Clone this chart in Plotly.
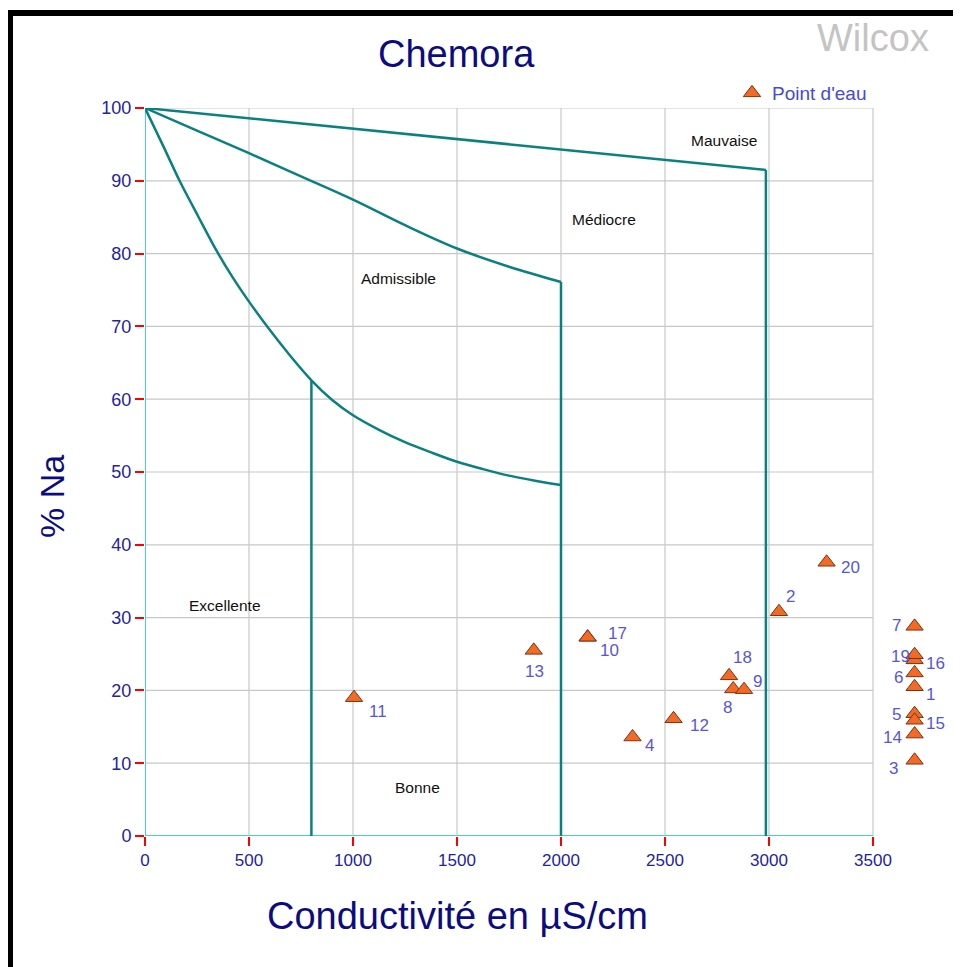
import plotly.graph_objects as go

# ---------------- data ----------------
point_ids = [str(i) for i in range(1, 21)]
conductivity = [3700, 3048, 3700, 2344, 3700, 3700, 3700, 2828, 2880, 2128,
                1005, 2541, 1869, 3700, 3700, 3700, 2128, 2808, 3700, 3277]
na_percent = [20.5, 30.8, 10.4, 13.6, 16.8, 22.4, 28.8, 20.2, 20.1, 27.3,
              19.0, 16.1, 25.5, 14.0, 15.9, 24.2, 27.3, 22.0, 24.9, 37.6]

# Wilcox class boundaries
top_x = [0, 2985]
top_y = [100, 91.5]
adm_x = [0, 250, 500, 750, 1000, 1250, 1500, 1750, 2000]
adm_y = [100, 96.9, 93.8, 90.6, 87.4, 83.9, 80.7, 78.2, 76.1]
exc_x = [0, 84, 168, 256, 344, 420, 500, 592, 700, 800, 900, 1000,
         1125, 1250, 1375, 1500, 1625, 1750, 1875, 2000]
exc_y = [100, 95.0, 89.9, 85.1, 80.4, 76.8, 73.4, 69.8, 65.9, 62.6, 59.9, 57.8,
         55.8, 54.1, 52.7, 51.4, 50.4, 49.5, 48.8, 48.2]
vert_x = [800, 2000, 2985]
vert_top = [62.6, 76.1, 91.5]

zone_names = ["Mauvaise", "Médiocre", "Admissible", "Excellente", "Bonne"]
zone_x = [2783, 2207, 1217, 385, 1308]
zone_y = [95.6, 84.75, 76.6, 31.7, 6.6]

x_ticks = [0, 500, 1000, 1500, 2000, 2500, 3000, 3500]
y_ticks = [0, 10, 20, 30, 40, 50, 60, 70, 80, 90, 100]

# label offsets in pixels (dx, dy downwards)
label_offsets = {
    "1": (16, 8), "2": (12, -15), "3": (-21, 8), "4": (17, 9), "5": (-18, 1),
    "6": (-16, 5), "7": (-18, -1), "8": (-6, 19), "9": (13, -8), "10": (22, 13),
    "11": (24, 14), "12": (26, 7), "13": (1, 21), "14": (-22, 3), "15": (21, 3),
    "16": (21, 4), "17": (30, -4), "18": (13, -18), "19": (-14, 2), "20": (24, 5),
}

# ---------------- layout constants ----------------
# the page body has an 8px margin, so the figure is 8px smaller and all
# reference pixel positions are shifted by OFF
OFF = 8
W, H = 961 - OFF, 967 - OFF
L, T = 145 - OFF, 108 - OFF
PW = W - L          # plot width (right margin 0)
PH = 728
B = H - T - PH
X_MAX_VIS = 3500
X_RANGE_MAX = X_MAX_VIS * PW / 728.0

FONT = "Liberation Sans, Arial, sans-serif"
TEAL = "#0a8080"
CYAN = "#48D0D0"
GRID = "#C8C8C8"
NAVY = "#0c0c80"
TICKC = "#24249c"
LABC = "#5656DC"


def px2paper_x(px):
    return (px - OFF - L) / PW


def px2paper_y(py):
    return (T + PH - (py - OFF)) / PH


fig = go.Figure()

# boundary lines
line_style = dict(color=TEAL, width=2.5)
fig.add_trace(go.Scatter(x=top_x, y=top_y, mode="lines", line=line_style,
                         showlegend=False, hoverinfo="skip"))
fig.add_trace(go.Scatter(x=adm_x, y=adm_y, mode="lines",
                         line=dict(color=TEAL, width=2.5, shape="spline"),
                         showlegend=False, hoverinfo="skip"))
fig.add_trace(go.Scatter(x=exc_x, y=exc_y, mode="lines",
                         line=dict(color=TEAL, width=2.5, shape="spline", smoothing=0.8),
                         showlegend=False, hoverinfo="skip"))
for vx, vt in zip(vert_x, vert_top):
    fig.add_trace(go.Scatter(x=[vx, vx], y=[0, vt], mode="lines", line=line_style,
                             showlegend=False, hoverinfo="skip"))

# points
fig.add_trace(go.Scatter(
    x=conductivity, y=na_percent, mode="markers", name="Point d'eau",
    marker=dict(symbol="triangle-up", size=15, color="#F26A26",
                line=dict(color="#7a3410", width=1)),
    cliponaxis=False,
))

# point labels
for pid, cx, cy in zip(point_ids, conductivity, na_percent):
    dx, dy = label_offsets[pid]
    fig.add_annotation(x=cx, y=cy, xref="x", yref="y", text=pid, showarrow=False,
                       xshift=dx, yshift=-dy, xanchor="center", yanchor="middle",
                       font=dict(family=FONT, size=17, color=LABC))

# zone labels
for name, zx, zy in zip(zone_names, zone_x, zone_y):
    fig.add_annotation(x=zx, y=zy, xref="x", yref="y", text=name, showarrow=False,
                       xanchor="center", yanchor="middle",
                       font=dict(family=FONT, size=15.5, color="#111111"))

# grid lines and axis lines as shapes (limited to the 0-3500 area)
shapes = []
for xv in x_ticks[1:]:
    shapes.append(dict(type="line", xref="x", yref="y", x0=xv, x1=xv, y0=0, y1=100,
                       line=dict(color=GRID, width=1.2), layer="below"))
for yv in y_ticks[1:]:
    shapes.append(dict(type="line", xref="x", yref="y", x0=0, x1=X_MAX_VIS, y0=yv, y1=yv,
                       line=dict(color=GRID, width=1.2), layer="below"))
shapes.append(dict(type="line", xref="x", yref="y", x0=0, x1=X_MAX_VIS, y0=0, y1=0,
                   line=dict(color=CYAN, width=2), layer="below"))
shapes.append(dict(type="line", xref="x", yref="y", x0=0, x1=0, y0=0, y1=100,
                   line=dict(color=CYAN, width=2), layer="below"))
# black frame (left and top)
shapes.append(dict(type="rect", xref="paper", yref="paper",
                   x0=px2paper_x(7), x1=px2paper_x(13), y0=px2paper_y(990), y1=px2paper_y(10),
                   fillcolor="black", line=dict(width=0), layer="above"))
shapes.append(dict(type="rect", xref="paper", yref="paper",
                   x0=px2paper_x(7), x1=px2paper_x(990), y0=px2paper_y(16), y1=px2paper_y(10),
                   fillcolor="black", line=dict(width=0), layer="above"))

# titles
annots = [
    dict(text="Chemora", x=px2paper_x(456), y=px2paper_y(54), size=38, color=NAVY, angle=0),
    dict(text="Wilcox", x=px2paper_x(873), y=px2paper_y(38), size=38, color="#C4C4C4", angle=0),
    dict(text="Conductivité en µS/cm", x=px2paper_x(457), y=px2paper_y(916), size=38, color=NAVY, angle=0),
    dict(text="% Na", x=px2paper_x(52), y=px2paper_y(497), size=34, color=NAVY, angle=-90),
]
for a in annots:
    fig.add_annotation(x=a["x"], y=a["y"], xref="paper", yref="paper", text=a["text"],
                       showarrow=False, xanchor="center", yanchor="middle", textangle=a["angle"],
                       font=dict(family=FONT, size=a["size"], color=a["color"]))

fig.update_layout(
    width=W, height=H,
    margin=dict(l=L, r=0, t=T, b=B),
    paper_bgcolor="white", plot_bgcolor="white",
    shapes=shapes,
    showlegend=True,
    legend=dict(x=px2paper_x(732), y=px2paper_y(93), xanchor="left", yanchor="middle",
                font=dict(family=FONT, size=19, color="#4848D8"),
                bgcolor="rgba(0,0,0,0)", borderwidth=0),
    xaxis=dict(range=[0, X_RANGE_MAX], tickvals=x_ticks, ticktext=[str(v) for v in x_ticks],
               showgrid=False, zeroline=False, showline=False,
               ticks="outside", ticklen=9, tickcolor="red", tickwidth=1.5,
               tickfont=dict(family=FONT, size=17, color=TICKC), fixedrange=True),
    yaxis=dict(range=[0, 100], tickvals=y_ticks, ticktext=[str(v) for v in y_ticks],
               showgrid=False, zeroline=False, showline=False,
               ticks="outside", ticklen=9, tickcolor="red", tickwidth=1.5,
               tickfont=dict(family=FONT, size=18, color=TICKC), fixedrange=True),
)

fig.write_html("out.html")
